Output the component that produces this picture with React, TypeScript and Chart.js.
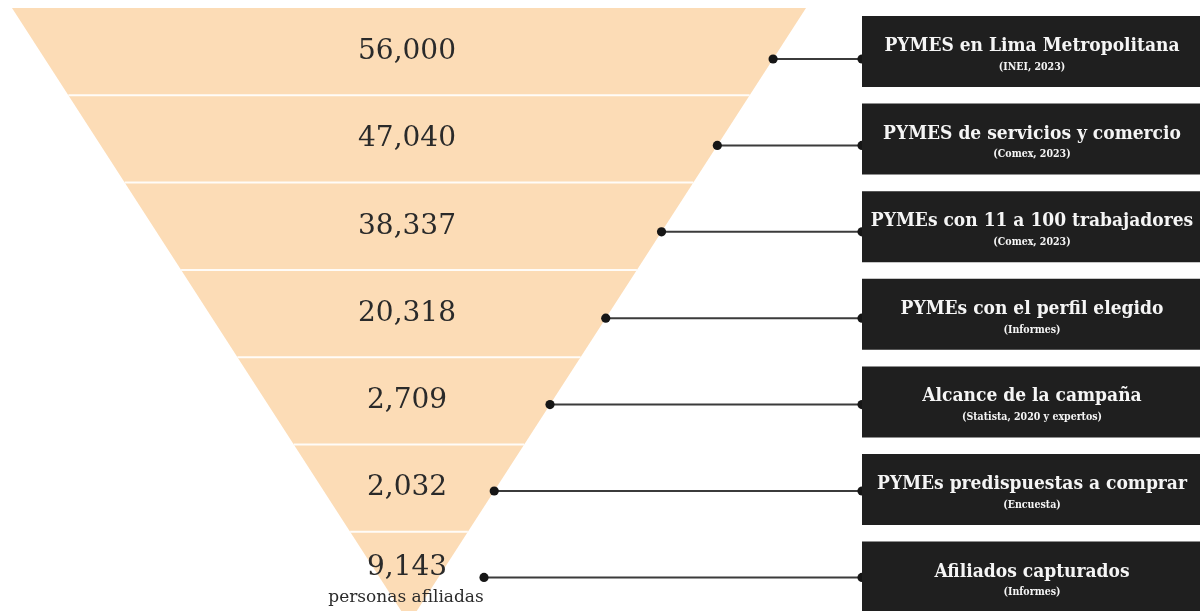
import { useEffect, useRef } from 'react';
import { Chart, registerables } from 'chart.js';

Chart.register(...registerables);

// ---------- data ----------
const stages = [
  'PYMES en Lima Metropolitana',
  'PYMES de servicios y comercio',
  'PYMEs con 11 a 100 trabajadores',
  'PYMEs con el perfil elegido',
  'Alcance de la campaña',
  'PYMEs predispuestas a comprar',
  'Afiliados capturados',
];
const sources = [
  '(INEI, 2023)',
  '(Comex, 2023)',
  '(Comex, 2023)',
  '(Informes)',
  '(Statista, 2020 y expertos)',
  '(Encuesta)',
  '(Informes)',
];
const values = [56000, 47040, 38337, 20318, 2709, 2032, 9143];
const lastNote = 'personas afiliadas';

// ---------- layout (in chart units = pixels) ----------
const W = 1200;
const H = 611;
const FUNNEL_TOP = 8;
const BAND_H = 87.3;
const FUNNEL_LEFT = 12;
const FUNNEL_RIGHT = 806;
const APEX_Y = 623;
const CX = (FUNNEL_LEFT + FUNNEL_RIGHT) / 2;
const halfW = (y: number) =>
  ((FUNNEL_RIGHT - FUNNEL_LEFT) / 2) * ((APEX_Y - y) / (APEX_Y - FUNNEL_TOP));

const BOX_LEFT = 862;
const BOX_RIGHT = 1210;
const BOX_TOP0 = 16;
const BOX_STEP = 87.6;
const BOX_H = 71;
const LINK_Y0 = 59;
const LINK_STEP = 86.4;
const LAST_DOT_MIN_X = 484;

const PEACH = '#fcdcb6';
const BOX_COLOR = '#1f1f1f';
const NUM_X = 407;

const fmt = (v: number) => v.toLocaleString('en-US');

function buildDatasets() {
  const ds: any[] = [];
  const base = {
    showLine: true,
    pointRadius: 0,
    pointHoverRadius: 0,
    tension: 0,
  };
  // 0: funnel top edge
  ds.push({
    ...base,
    data: [
      { x: FUNNEL_LEFT, y: FUNNEL_TOP },
      { x: FUNNEL_RIGHT, y: FUNNEL_TOP },
    ],
    borderWidth: 0,
    borderColor: 'transparent',
    fill: false,
    order: 20,
  });
  // 1: funnel V shape, filled to the top edge
  ds.push({
    ...base,
    data: [
      { x: FUNNEL_LEFT, y: FUNNEL_TOP },
      { x: CX, y: APEX_Y },
      { x: FUNNEL_RIGHT, y: FUNNEL_TOP },
    ],
    borderWidth: 0,
    borderColor: 'transparent',
    backgroundColor: PEACH,
    fill: 0,
    order: 19,
  });
  // separators between stages
  for (let i = 1; i < stages.length; i++) {
    const y = FUNNEL_TOP + BAND_H * i;
    const hw = halfW(y);
    ds.push({
      ...base,
      data: [
        { x: CX - hw, y },
        { x: CX + hw, y },
      ],
      borderColor: 'rgba(255,255,255,0.9)',
      borderWidth: 2,
      fill: false,
      order: 18,
    });
  }
  // connectors
  stages.forEach((_, i) => {
    const y = LINK_Y0 + LINK_STEP * i;
    const x0 = Math.max(CX + halfW(y), LAST_DOT_MIN_X);
    ds.push({
      ...base,
      data: [
        { x: x0, y },
        { x: BOX_LEFT, y },
      ],
      borderColor: '#3b3b3b',
      borderWidth: 2,
      pointRadius: 4.6,
      pointBackgroundColor: '#161616',
      pointBorderWidth: 0,
      fill: false,
      order: 10,
    });
  });
  // boxes
  stages.forEach((_, i) => {
    const top = BOX_TOP0 + BOX_STEP * i;
    const bottom = top + BOX_H;
    const topIdx = ds.length;
    ds.push({
      ...base,
      data: [
        { x: BOX_LEFT, y: top },
        { x: BOX_RIGHT, y: top },
      ],
      borderWidth: 0,
      borderColor: 'transparent',
      backgroundColor: BOX_COLOR,
      fill: topIdx + 1,
      order: 5,
    });
    ds.push({
      ...base,
      data: [
        { x: BOX_LEFT, y: bottom },
        { x: BOX_RIGHT, y: bottom },
      ],
      borderWidth: 0,
      borderColor: 'transparent',
      fill: false,
      order: 5,
    });
  });
  return ds;
}

const TITLE_FONT = 'bold 19px "DejaVu Serif Condensed", "DejaVu Serif"';
const SOURCE_FONT = 'bold 10.5px "DejaVu Serif Condensed", "DejaVu Serif"';

const textPlugin = {
  id: 'funnelText',
  afterDatasetsDraw(chart: any) {
    const { ctx, scales } = chart;
    const px = (v: number) => scales.x.getPixelForValue(v);
    const py = (v: number) => scales.y.getPixelForValue(v);
    ctx.save();
    ctx.textAlign = 'center';
    ctx.textBaseline = 'middle';
    // numbers
    ctx.fillStyle = '#2a2a2a';
    ctx.font = '28px "DejaVu Serif"';
    values.forEach((v, i) => {
      const last = i === values.length - 1;
      const y = FUNNEL_TOP + BAND_H * (i + 0.5) + (last ? -7.5 : 0);
      ctx.fillText(fmt(v), px(NUM_X), py(y));
      if (last) {
        ctx.font = '17px "DejaVu Serif"';
        ctx.fillText(lastNote, px(NUM_X - 1), py(y + 30));
        ctx.font = '28px "DejaVu Serif"';
      }
    });
    // box texts
    const cx = (BOX_LEFT + W) / 2 + 1;
    stages.forEach((s, i) => {
      const top = BOX_TOP0 + BOX_STEP * i;
      ctx.fillStyle = '#f5f5f5';
      ctx.font = TITLE_FONT;
      ctx.fillText(s, px(cx), py(top + 30));
      ctx.font = SOURCE_FONT;
      ctx.fillText(sources[i], px(cx), py(top + 51));
    });
    ctx.restore();
  },
};

export default function App() {
  const ref = useRef<HTMLCanvasElement>(null);
  useEffect(() => {
    document.body.style.margin = '0';
    const chart = new Chart(ref.current as HTMLCanvasElement, {
      type: 'scatter',
      data: { datasets: buildDatasets() },
      options: {
        animation: false,
        responsive: false,
        maintainAspectRatio: false,
        events: [],
        layout: { padding: 0, autoPadding: false },
        scales: {
          x: { type: 'linear', min: 0, max: W, display: false },
          y: { type: 'linear', min: 0, max: H, reverse: true, display: false },
        },
        plugins: {
          legend: { display: false },
          tooltip: { enabled: false },
        },
      },
      plugins: [textPlugin],
    } as any);
    return () => chart.destroy();
  }, []);
  return (
    <div style={{ position: 'absolute', left: 0, top: 0, width: W, height: H, background: '#fff' }}>
      <canvas ref={ref} width={W} height={H} style={{ display: 'block' }} />
    </div>
  );
}
